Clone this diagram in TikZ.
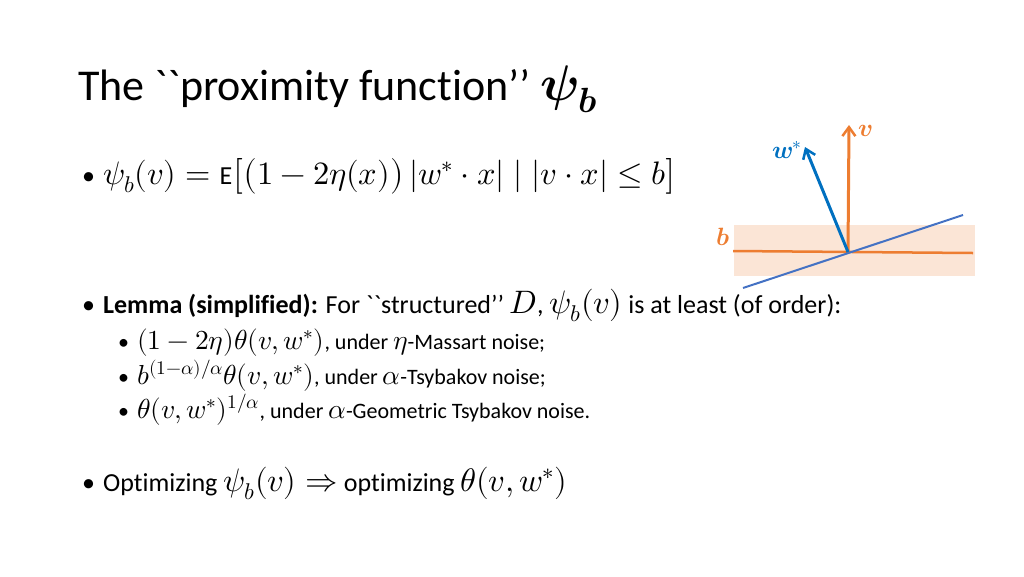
\documentclass[tikz,border=0pt]{standalone}
\usepackage{amsmath}
\usepackage{fontspec}
\usepackage{unicode-math}
\setmainfont{Carlito}[Ligatures={NoCommon}]
\setmathfont{Latin Modern Math}[Scale=1.25]
\usetikzlibrary{positioning,arrows.meta}
\definecolor{myorange}{RGB}{237,125,49}
\definecolor{myblue}{RGB}{0,112,192}
\definecolor{lineblue}{RGB}{68,114,196}
\definecolor{bandfill}{RGB}{251,229,214}
\newcommand{\qq}[1]{\textasciigrave\textasciigrave#1’’}
\newcommand{\bul}{•\hspace{8pt}}
\begin{document}
\begin{tikzpicture}[x=1pt,y=-1pt,
  txt/.style={anchor=base west,inner sep=0pt,font=\fontsize{26}{30}\selectfont},
  subtxt/.style={anchor=base west,inner sep=0pt,font=\fontsize{22}{26}\selectfont},
  lbl/.style={inner sep=1pt,font=\fontsize{20}{24}\selectfont},
  vec/.style={-{Straight Barb[length=9pt,width=13pt,line width=2.5pt]},line width=3pt}]
\useasboundingbox (0,0) rectangle (1024,576);
% title
\node (title) [anchor=base west,inner sep=0pt,font=\fontsize{44}{50}\selectfont] at (78,100) {The \qq{proximity function} {\fontsize{40}{44}\selectfont$\symbfit{\psi_b}$}};
% bullets
\node (b1) [txt] at (82,184) {\bul$\psi_b(v)=\mathrm{E}\big[\big(1-2\eta(x)\big)\,|w^*\cdot x|\mid |v\cdot x|\le b\big]$};
\node (b2) [txt] at (82,313) {\bul\textbf{Lemma (simplified):} For \qq{structured} $D$, $\psi_b(v)$ is at least (of order):};
\node (s1) [subtxt] at (118,349) {\bul$(1-2\eta)\theta(v,w^*)$, under $\eta$-Massart noise;};
\node (s2) [subtxt] at (118,384) {\bul$b^{(1-\alpha)/\alpha}\theta(v,w^*)$, under $\alpha$-Tsybakov noise;};
\node (s3) [subtxt] at (118,418) {\bul$\theta(v,w^*)^{1/\alpha}$, under $\alpha$-Geometric Tsybakov noise.};
\node (b3) [txt] at (82,491) {\bul Optimizing $\psi_b(v)\Rightarrow$ optimizing $\theta(v,w^*)$};
% diagram
\fill[bandfill] (734,225) rectangle (975,276);
\coordinate (o) at (848,252);
\coordinate (hl) at (733,251);
\coordinate (hr) at (973,253);
\coordinate (dl) at (743,288);
\coordinate (dr) at (963,215);
\draw[myorange,line width=2.5pt] (hl) -- (hr);
\draw[lineblue,line width=2pt] (dl) -- (dr);
\draw[vec,myorange] (o) -- (849,125) coordinate (vtip);
\draw[vec,myblue] (o) -- (805,147) coordinate (wtip);
\node (vl) [lbl,myorange] at (866,131) {$\symbfit{v}$};
\node (wl) [lbl,myblue] at (787,150) {$\symbfit{w}^{*}$};
\node (bl) [lbl,myorange] at (723,237) {$\symbfit{b}$};
\end{tikzpicture}
\end{document}
